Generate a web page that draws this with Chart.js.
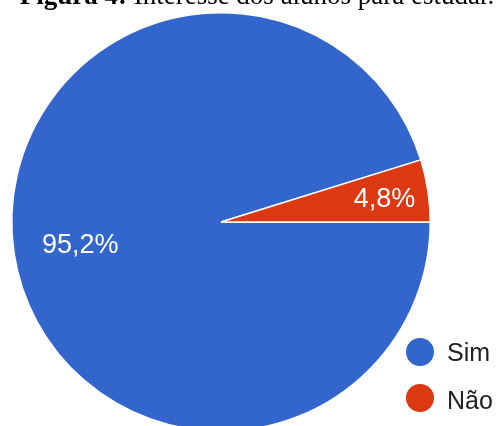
<!DOCTYPE html>
<html>
<head>
<meta charset="utf-8">
<script src="https://cdn.jsdelivr.net/npm/chart.js@4/dist/chart.umd.min.js"></script>
<style>
  html, body { margin: 0; padding: 0; background: #fff; overflow: hidden; }
  #wrap { position: relative; width: 499px; height: 450px; }
</style>
</head>
<body>
<div id="wrap"><canvas id="interesse-chart" width="499" height="450"></canvas></div>
<script>
// Respostas: interesse dos alunos para estudar
const CAPTION = 'Interesse dos alunos para estudar.';
const CAPTION_PREFIX = 'Figura 4:';
const labels = ['Sim', 'Não'];
const percentages = [95.2, 4.8];
const colors = ['#3366CC', '#DC3912'];

const SERIF = '"Liberation Serif", "Times New Roman", serif';
const SANS = 'Arial, "Liberation Sans", sans-serif';

/** Caption line above the pie (bold prefix + normal text) */
const captionPlugin = {
    id: 'caption',
    afterDraw(chart) {
        const ctx = chart.ctx;
        ctx.save();
        ctx.fillStyle = '#000';
        ctx.textBaseline = 'alphabetic';
        ctx.textAlign = 'left';
        ctx.font = 'bold 27px ' + SERIF;
        const prefixWidth = ctx.measureText(CAPTION_PREFIX + ' ').width;
        ctx.font = '27px ' + SERIF;
        const total = prefixWidth + ctx.measureText(CAPTION).width;
        const x = 257 - total / 2;
        ctx.font = 'bold 27px ' + SERIF;
        ctx.fillText(CAPTION_PREFIX + ' ', x, 4);
        ctx.font = '27px ' + SERIF;
        ctx.fillText(CAPTION, x + prefixWidth, 4);
        ctx.restore();
    }
};

/** Percentage labels written inside each slice */
const sliceLabelPlugin = {
    id: 'sliceLabels',
    afterDatasetsDraw(chart) {
        const ctx = chart.ctx;
        const meta = chart.getDatasetMeta(0);
        ctx.save();
        ctx.fillStyle = '#fff';
        ctx.font = '27px ' + SANS;
        ctx.textAlign = 'center';
        ctx.textBaseline = 'middle';
        meta.data.forEach((arc, i) => {
            const { x, y, startAngle, endAngle, outerRadius } = arc.getProps(['x', 'y', 'startAngle', 'endAngle', 'outerRadius'], true);
            const mid = (startAngle + endAngle) / 2;
            // thin slices get their label pushed toward the rim
            const frac = percentages[i] < 10 ? 0.79 : 0.68;
            const r = outerRadius * frac;
            const text = percentages[i].toFixed(1).replace('.', ',') + '%';
            ctx.fillText(text, x + Math.cos(mid) * r, y + Math.sin(mid) * r + 2);
        });
        ctx.restore();
    }
};

/** Round-marker legend in the lower right corner */
const legendPlugin = {
    id: 'cornerLegend',
    afterDraw(chart) {
        const ctx = chart.ctx;
        ctx.save();
        ctx.font = '25px ' + SANS;
        ctx.textAlign = 'left';
        ctx.textBaseline = 'middle';
        labels.forEach((lab, i) => {
            const cy = 352 + i * 46;
            ctx.fillStyle = colors[i];
            ctx.beginPath();
            ctx.arc(420, cy, 14, 0, Math.PI * 2);
            ctx.fill();
            ctx.fillStyle = '#222';
            ctx.fillText(lab, 447, cy + 2 + i * 2);
        });
        ctx.restore();
    }
};

const ctx = document.getElementById('interesse-chart').getContext('2d');
new Chart(ctx, {
    type: 'pie',
    data: {
        labels: labels,
        datasets: [{
            data: percentages,
            backgroundColor: colors,
            borderColor: '#fff',
            borderWidth: 1.5
        }]
    },
    options: {
        responsive: false,
        animation: false,
        rotation: 90,
        layout: {
            padding: { left: 11, right: 68, top: 12, bottom: 18 }
        },
        plugins: {
            legend: { display: false },
            tooltip: { enabled: false }
        }
    },
    plugins: [captionPlugin, sliceLabelPlugin, legendPlugin]
});
</script>
</body>
</html>
